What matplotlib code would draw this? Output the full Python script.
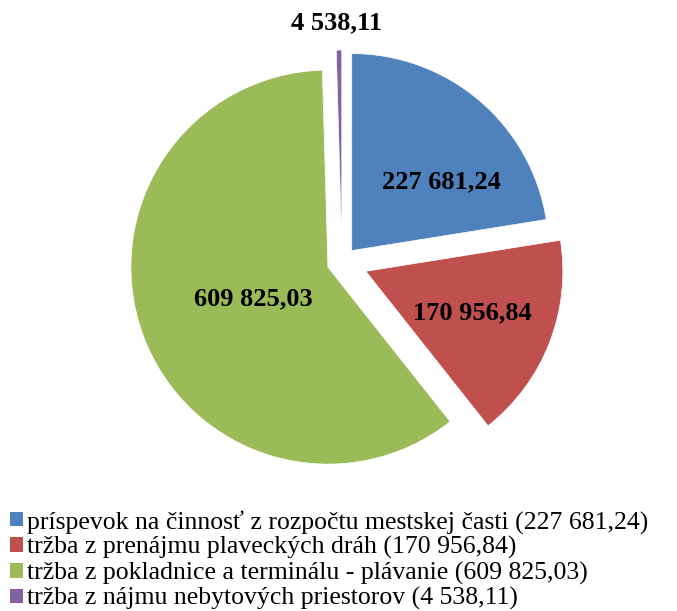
import matplotlib
matplotlib.use('Agg')
import matplotlib.pyplot as plt
from matplotlib.patches import Patch

names = ['príspevok na činnosť z rozpočtu mestskej časti',
         'tržba z prenájmu plaveckých dráh',
         'tržba z pokladnice a terminálu - plávanie',
         'tržba z nájmu nebytových priestorov']
values = [227681.24, 170956.84, 609825.03, 4538.11]
colors = ['#4F81BD', '#C0504D', '#9BBB59', '#8064A2']
explode = [0.076, 0.13, 0.076, 0.076]
# label positions relative to pie centre (pie radius = 1)
label_xy = [(0.503, 0.406), (0.66, -0.259), (-0.449, -0.188), (-0.03, 1.213)]


def fmt(v):
    s = '{:,.2f}'.format(v)
    return s.replace(',', ' ').replace('.', ',')


plt.rcParams['font.family'] = ['Liberation Serif', 'DejaVu Serif']

W, H = 677, 611
fig = plt.figure(figsize=(W / 100, H / 100), dpi=100)
cx, cy, r = 342, 262, 197
a = 1.2
side = 2 * a * r
ax = fig.add_axes([(cx - side / 2) / W, (H - cy - side / 2) / H, side / W, side / H])
ax.pie(values, colors=colors, startangle=90, counterclock=False,
       explode=explode, wedgeprops=dict(edgecolor='white', linewidth=0.5))
ax.set_xlim(-a, a)
ax.set_ylim(-a, a)
ax.set_aspect('equal')
ax.axis('off')

for v, (x, y) in zip(values, label_xy):
    ax.text(x, y, fmt(v), ha='center', va='center', fontsize=19,
            fontweight='bold', color='black')

handles = [Patch(facecolor=c, edgecolor='none') for c in colors]
labels = [n + ' (' + fmt(v) + ')' for n, v in zip(names, values)]
fig.legend(handles, labels, loc='lower left', bbox_to_anchor=(0.0, -0.016),
           frameon=False, fontsize=18.5, handlelength=0.5, handleheight=0.5,
           handletextpad=0.16, labelspacing=0.1, borderaxespad=0)

plt.savefig('out.png', dpi=100)
